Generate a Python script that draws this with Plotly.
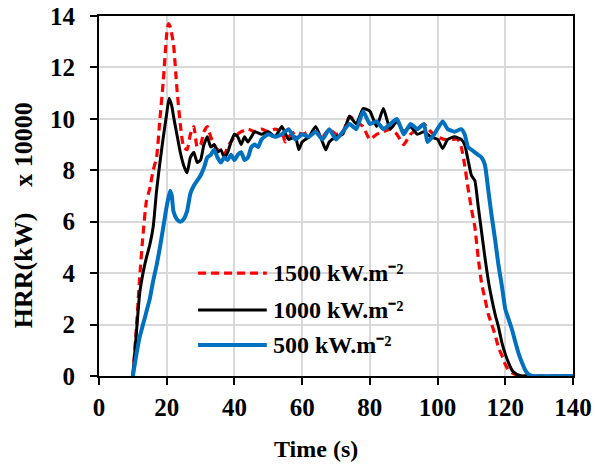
import plotly.graph_objects as go

# ---------------- data ----------------
t_1500 = [10, 11, 12, 13, 14, 15, 16, 17, 18, 19, 20, 20.5, 21, 22, 23, 24, 25, 26, 27, 28, 29, 30,
          31, 32, 33, 34, 35, 36, 37, 38, 40, 42, 44, 46, 48, 50, 52, 54, 55, 56, 58, 60, 62, 64,
          66, 68, 70, 72, 73, 74, 76, 78, 80, 82, 84, 86, 88, 90, 92, 94, 96, 98, 100, 102, 104,
          106, 107, 108, 109, 110, 111, 112, 113, 114, 115, 116, 117, 118, 119, 120, 121, 122,
          123, 124, 126, 130, 140]
hrr_1500 = [0, 1.8, 3.8, 5.5, 6.8, 7.3, 8.0, 8.5, 10.0, 11.5, 13.3, 13.7, 13.6, 12.9, 11.2, 9.8,
            8.9, 8.8, 9.4, 9.7, 8.9, 9.0, 9.5, 9.7, 9.3, 9.0, 8.8, 8.7, 8.6, 8.9, 9.3, 9.5, 9.6,
            9.5, 9.6, 9.5, 9.6, 9.5, 9.1, 9.3, 9.5, 9.4, 9.5, 9.5, 9.3, 9.6, 9.4, 9.5, 9.8, 10.1,
            9.9, 9.7, 9.2, 9.4, 9.5, 9.6, 9.4, 9.0, 9.4, 9.6, 9.8, 9.5, 9.3, 9.2, 9.2, 9.2, 8.9,
            8.2, 7.3, 6.5, 5.8, 4.6, 3.6, 3.0, 2.4, 2.0, 1.6, 1.1, 0.8, 0.45, 0.22, 0.12, 0.06,
            0.03, 0, 0, 0]

t_1000 = [10, 11, 12, 13, 14, 15, 16, 17, 18, 19, 20, 20.7, 21.5, 22, 23, 24, 25, 26, 27, 28, 29,
          30, 31, 32, 33, 34, 35, 36, 37, 38, 39, 40, 41, 42, 43, 44, 46, 48, 50, 52, 54, 56, 58,
          59, 60, 62, 64, 66, 67, 68, 70, 72, 74, 76, 78, 80, 82, 84, 86, 88, 90, 92, 94, 96, 98,
          100, 101.5, 103, 105, 107, 108, 109, 110, 111, 112, 113, 114, 115, 116, 117, 118, 119,
          120, 121, 122, 123, 124, 126, 140]
hrr_1000 = [0, 1.6, 3.2, 4.0, 4.6, 5.1, 5.8, 7.2, 8.3, 9.3, 10.2, 10.8, 10.5, 10.1, 9.4, 8.7, 8.2,
            7.9, 8.5, 8.7, 8.3, 8.4, 9.0, 9.3, 8.9, 9.0, 8.7, 8.8, 8.5, 8.7, 9.1, 9.4, 9.3, 9.0,
            9.3, 9.1, 9.5, 9.4, 9.5, 9.3, 9.7, 9.2, 9.3, 8.8, 9.1, 9.3, 9.7, 9.1, 8.8, 9.1, 9.3,
            9.4, 10.1, 9.8, 10.4, 10.3, 9.7, 10.4, 9.6, 9.9, 9.5, 9.7, 9.4, 9.5, 9.3, 9.2, 8.85,
            9.2, 9.3, 9.2, 9.0, 8.4, 7.8, 7.6, 6.6, 5.6, 4.6, 3.7, 3.0, 2.4, 1.9, 1.3, 0.85, 0.5,
            0.22, 0.1, 0.03, 0, 0]

t_500 = [10, 11, 12, 13, 14, 15, 16, 17, 18, 19, 20, 21, 21.5, 22, 23, 24, 25, 26, 27, 28, 29, 30,
         31, 32, 33, 34, 35, 36, 37, 38, 39, 40, 41, 42, 43, 44, 45, 46, 47, 48, 50, 52, 54, 56,
         58, 60, 62, 64, 66, 68, 70, 72, 74, 76, 78, 80, 82, 84, 86, 88, 90, 92, 94, 96, 97, 99,
         101.5, 103, 105, 107, 108, 109, 110, 111, 112, 113, 114, 115, 116, 117, 118, 119, 120,
         121, 122, 123, 124, 125, 126, 127, 128, 140]
hrr_500 = [0, 0.8, 1.5, 2.0, 2.5, 3.0, 3.7, 4.3, 5.0, 5.8, 6.6, 7.2, 7.0, 6.4, 6.1, 6.0, 6.1, 6.4,
           7.1, 7.4, 7.6, 7.8, 8.1, 8.5, 8.6, 8.8, 8.5, 8.3, 8.5, 8.4, 8.6, 8.4, 8.6, 8.7, 8.4,
           8.5, 8.9, 9.0, 8.9, 9.2, 9.4, 9.3, 9.4, 9.6, 9.2, 9.4, 9.3, 9.5, 9.2, 9.6, 9.2, 9.5,
           9.8, 9.6, 10.3, 9.8, 9.9, 9.6, 9.8, 10.0, 9.4, 9.8, 9.6, 9.8, 9.1, 9.4, 9.9, 9.6, 9.5,
           9.6, 9.4, 8.9, 8.8, 8.7, 8.6, 8.5, 8.2, 7.2, 6.2, 5.3, 4.3, 3.5, 2.6, 2.2, 1.8, 1.3,
           0.85, 0.5, 0.2, 0.05, 0, 0]

series_names = ["1500 kW.m⁻²", "1000 kW.m⁻²", "500 kW.m⁻²"]
x_ticks = [0, 20, 40, 60, 80, 100, 120, 140]
y_ticks = [0, 2, 4, 6, 8, 10, 12, 14]

# ---------------- styles ----------------
FONT = "Liberation Serif, Times New Roman, serif"
colors = ["#ff0000", "#000000", "#0070c0"]
widths = [3.2, 3, 4]
dashes = ["8px,5px", "solid", "solid"]

fig = go.Figure()
for t, y, c, w, d, n in zip([t_1500, t_1000, t_500], [hrr_1500, hrr_1000, hrr_500],
                            colors, widths, dashes, series_names):
    fig.add_trace(go.Scatter(x=t, y=y, mode="lines", name=n, showlegend=False,
                             line=dict(color=c, width=w, dash=d, shape="spline", smoothing=0.5)))

axis_common = dict(
    showline=True, linecolor="black", linewidth=2, mirror=True,
    showgrid=True, gridcolor="#d9d9d9", gridwidth=2, zeroline=False,
    ticks="outside", ticklen=7, tickwidth=1.5, tickcolor="black", automargin=False,
    tickfont=dict(family=FONT, size=25, color="black", weight="bold"),
)
fig.update_xaxes(range=[0, 140], tickvals=x_ticks, ticklabelstandoff=1, **axis_common)
fig.update_yaxes(range=[0, 14], tickvals=y_ticks, ticklabelstandoff=10, **axis_common)

# custom legend (inside plot)
leg_y = [0.286, 0.183, 0.086]
for c, w, d, n, yy in zip(colors, widths, dashes, series_names, leg_y):
    fig.add_shape(type="line", xref="paper", yref="paper", x0=0.209, x1=0.354, y0=yy, y1=yy,
                  line=dict(color=c, width=w, dash=d))
    fig.add_annotation(xref="paper", yref="paper", x=0.363, y=yy, text=n, showarrow=False,
                       xanchor="left", yanchor="middle",
                       font=dict(family=FONT, size=24, color="black", weight="bold"))

# axis titles
fig.add_annotation(xref="paper", yref="paper", x=0.458, y=-0.203, text="Time (s)",
                   showarrow=False, xanchor="center", yanchor="middle",
                   font=dict(family=FONT, size=24, color="black", weight="bold"))
fig.add_annotation(xref="paper", yref="paper", x=-0.160, y=0.447,
                   text="HRR(kW)\u00a0\u00a0\u00a0\u00a0x 10000", textangle=-90,
                   showarrow=False, xanchor="center", yanchor="middle",
                   font=dict(family=FONT, size=26, color="black", weight="bold"))

fig.update_layout(
    width=598, height=464,
    margin=dict(l=99, r=25, t=16, b=88, autoexpand=False),
    paper_bgcolor="white", plot_bgcolor="white",
    showlegend=False,
)

# remove the default 8px page margin so the figure sits at the window's top-left corner
fig.write_html("out.html", config={"displayModeBar": False},
               post_script="document.body.style.margin='0px';")
